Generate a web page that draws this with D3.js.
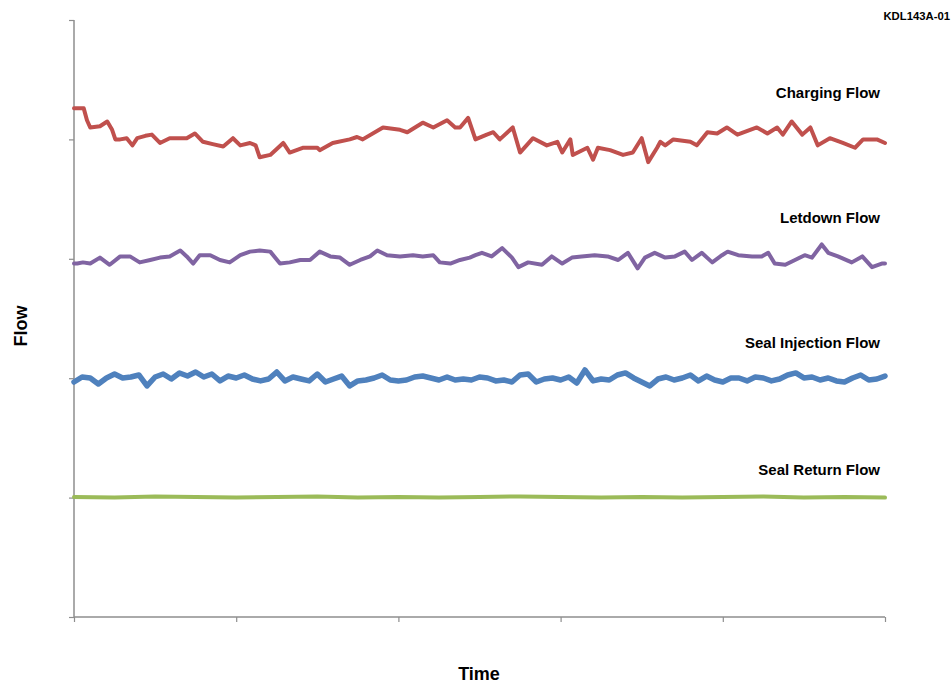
<!DOCTYPE html>
<html>
<head>
<meta charset="utf-8">
<script src="https://cdn.jsdelivr.net/npm/d3@7"></script>
<style>
  html, body { margin: 0; padding: 0; background: #fff; }
  svg { display: block; }
  text { font-family: "Liberation Sans", Arial, sans-serif; font-weight: bold; fill: #000; }
</style>
</head>
<body>
<svg id="chart" width="952" height="687"></svg>
<script>
// ---------- DATA ----------
const seriesNames = ["Charging Flow", "Letdown Flow", "Seal Injection Flow", "Seal Return Flow"];
const xTicks = [0, 20, 40, 60, 80, 100];
const yTicks = [0, 10, 20, 30, 40, 50];

const chargingTime = [0,1.2,1.6,2.0,3.2,4.1,4.7,5.1,5.7,6.5,7.2,7.8,8.8,9.6,10.6,11.8,13.9,14.9,15.9,17.1,18.4,19.6,20.5,21.7,22.4,22.9,24.2,25.8,26.6,28.2,30.0,30.3,31.9,34.0,34.9,35.6,38.1,40.2,41.1,43.0,44.3,46.0,47.0,47.6,48.6,49.5,50.9,51.7,52.5,54.1,55.0,56.6,58.3,59.6,60.2,61.2,61.5,63.3,64.0,64.6,66.1,67.7,68.9,70.0,70.8,71.9,72.3,72.9,73.9,76.0,76.8,78.1,79.3,80.5,81.8,84.2,85.5,86.7,87.4,88.5,89.8,90.8,91.7,93.2,94.8,96.3,97.3,99.0,100];
const chargingFlow = [42.6,42.6,41.6,41.0,41.1,41.5,40.8,40.0,40.0,40.1,39.5,40.1,40.3,40.4,39.7,40.1,40.1,40.5,39.8,39.6,39.4,40.1,39.5,39.7,39.5,38.5,38.7,39.7,38.9,39.3,39.3,39.1,39.7,40.0,40.2,40.0,41.0,40.8,40.6,41.4,41.0,41.6,41.0,41.0,41.8,40.0,40.4,40.6,40.0,41.0,38.9,40.1,39.5,39.8,38.9,40.0,38.7,39.3,38.3,39.3,39.1,38.7,38.9,40.1,38.1,39.3,39.8,39.5,40.0,39.8,39.5,40.6,40.5,41.0,40.4,41.0,40.5,41.0,40.4,41.5,40.4,41.0,39.5,40.1,39.7,39.3,40.0,40.0,39.7];

const letdownTime = [0,0.4,1.1,2.0,3.2,4.4,5.7,6.9,8.1,9.4,10.6,11.8,13.1,13.9,14.7,15.5,16.8,18.0,19.2,20.5,21.7,22.9,24.2,25.4,26.6,27.9,29.1,30.3,31.6,32.8,34.0,35.3,36.5,37.4,38.6,40.2,41.8,43.0,44.3,45.1,46.4,47.6,48.8,49.5,50.3,51.5,52.8,54.0,54.8,56.0,57.7,58.9,60.2,61.4,62.6,64.2,65.8,67.1,68.3,69.5,70.4,71.6,72.9,74.1,75.3,76.2,77.4,78.7,79.9,80.6,81.9,83.6,84.8,85.6,86.4,87.7,88.9,90.1,91.0,92.2,93.0,94.2,95.9,97.2,98.4,99.6,100];
const letdownFlow = [29.6,29.6,29.7,29.6,30.1,29.5,30.2,30.2,29.7,29.9,30.1,30.2,30.7,30.2,29.6,30.3,30.3,29.9,29.7,30.3,30.6,30.7,30.6,29.6,29.7,29.9,29.9,30.6,30.2,30.1,29.5,29.9,30.2,30.7,30.3,30.2,30.3,30.2,30.3,29.7,29.6,29.9,30.1,30.3,30.5,30.2,30.9,30.1,29.3,29.7,29.5,30.2,29.6,30.1,30.2,30.3,30.2,29.9,30.5,29.2,30.1,30.5,30.1,30.2,30.6,29.9,30.5,29.7,30.3,30.6,30.3,30.2,30.2,30.5,29.6,29.5,29.9,30.3,30.1,31.2,30.5,30.2,29.7,30.2,29.3,29.6,29.6];

// sampled once per time unit, t = 0..100
const sealInjectionFlow = [19.68,20.10,20.02,19.51,20.02,20.35,20.02,20.10,20.27,19.35,20.10,20.35,19.93,20.44,20.18,20.52,20.10,20.35,19.77,20.18,20.02,20.27,19.93,19.77,19.93,20.52,19.77,20.10,19.93,19.77,20.35,19.68,19.93,20.18,19.35,19.77,19.85,20.02,20.27,19.85,19.77,19.85,20.10,20.18,20.02,19.85,20.10,19.85,19.93,19.85,20.10,20.02,19.77,19.85,19.68,20.27,20.35,19.68,19.93,20.02,19.85,20.10,19.60,20.69,19.77,19.93,19.85,20.27,20.44,20.02,19.68,19.35,19.93,20.10,19.85,20.02,20.27,19.77,20.18,19.85,19.68,20.02,20.02,19.77,20.10,20.02,19.77,19.93,20.27,20.44,20.02,20.10,19.85,20.02,19.77,19.68,20.02,20.27,19.85,19.93,20.18];

// sampled every 5 time units, t = 0..100
const sealReturnFlow = [10.05,10.0,10.1,10.05,10.0,10.05,10.1,10.0,10.05,10.0,10.05,10.1,10.05,10.0,10.05,10.0,10.05,10.1,10.0,10.05,10.0];

const seriesColors = ["#c0504d", "#8064a2", "#4f81bd", "#9bbb59"];

// ---------- CHART ----------
const svg = d3.select("#chart");
const mLeft = 74, mRight = 885, mTop = 20, mBottom = 617;

const x = d3.scaleLinear().domain([0, 100]).range([mLeft, mRight]);
const y = d3.scaleLinear().domain([0, 50]).range([mBottom, mTop]);

const sealInjTime = d3.range(sealInjectionFlow.length);
const sealRetTime = d3.range(sealReturnFlow.length).map(i => i * 5);

function zipSeries(ts, vs) {
  const n = Math.min(ts.length, vs.length);
  return d3.range(n).map(i => [ts[i], vs[i]]);
}

const series = [
  zipSeries(chargingTime, chargingFlow),
  zipSeries(letdownTime, letdownFlow),
  zipSeries(sealInjTime, sealInjectionFlow),
  zipSeries(sealRetTime, sealReturnFlow)
];
const widths = [4, 4, 5.5, 4];

// axes
const axisColor = "#8e8e8e";
const yAxis = svg.append("g")
  .attr("transform", `translate(${mLeft},0)`)
  .call(d3.axisLeft(y).tickValues(yTicks).tickSize(5).tickFormat(""));
const xAxis = svg.append("g")
  .attr("transform", `translate(0,${mBottom})`)
  .call(d3.axisBottom(x).tickValues(xTicks).tickSize(5).tickFormat(""));
[yAxis, xAxis].forEach(g => {
  g.select(".domain").attr("stroke", axisColor).attr("stroke-width", 1.5);
  g.selectAll(".tick line").attr("stroke", axisColor).attr("stroke-width", 1.2);
});
yAxis.select(".domain").attr("d", `M0,${mTop}V${mBottom}`);
xAxis.select(".domain").attr("d", `M${mLeft},0H${mRight}`);

// lines
const line = d3.line().x(d => x(d[0])).y(d => y(d[1])).curve(d3.curveLinear);
series.forEach((s, i) => {
  svg.append("path")
    .datum(s)
    .attr("fill", "none")
    .attr("stroke", seriesColors[i])
    .attr("stroke-width", widths[i])
    .attr("stroke-linejoin", "round")
    .attr("stroke-linecap", "round")
    .attr("d", line);
});

// series labels
const labelY = [98, 223, 348, 475];
seriesNames.forEach((name, i) => {
  svg.append("text")
    .attr("x", 880).attr("y", labelY[i])
    .attr("text-anchor", "end")
    .attr("font-size", 15)
    .text(name);
});

// id tag
svg.append("text").attr("x", 950).attr("y", 20).attr("text-anchor", "end")
  .attr("font-size", 11.3).text("KDL143A-01");

// axis titles
svg.append("text").attr("x", 479).attr("y", 680).attr("text-anchor", "middle")
  .attr("font-size", 18).text("Time");
svg.append("text").attr("transform", "translate(27,326) rotate(-90)")
  .attr("text-anchor", "middle").attr("font-size", 18).text("Flow");
</script>
</body>
</html>
